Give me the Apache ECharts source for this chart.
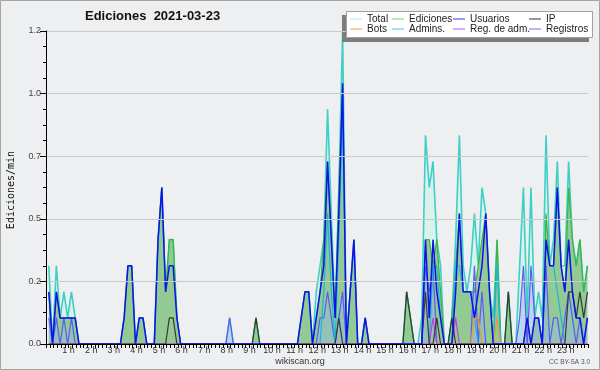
<!DOCTYPE html>
<html>
<head>
<meta charset="utf-8">
<script src="https://cdn.jsdelivr.net/npm/echarts@6/dist/echarts.min.js"></script>
<style>
html, body { margin: 0; padding: 0; background: #eeeff1; }
#chart { width: 600px; height: 370px; }
</style>
</head>
<body>
<div id="chart"></div>
<script>
// edits per minute, one value per 10-minute slot (144 slots, 12 per row = 2 hours)
const total = [
  0.3, 0, 0.3, 0.1, 0.2, 0.1, 0.2, 0.1, 0, 0, 0, 0,
  0, 0, 0, 0, 0, 0, 0, 0, 0.1, 0.3, 0.3, 0,
  0.1, 0.1, 0, 0, 0, 0.4, 0.6, 0.2, 0.4, 0.4, 0.1, 0,
  0, 0, 0, 0, 0, 0, 0, 0, 0, 0, 0, 0,
  0.1, 0, 0, 0, 0, 0, 0, 0.1, 0, 0, 0, 0,
  0, 0, 0, 0, 0, 0, 0, 0.1, 0.2, 0.2, 0, 0.2,
  0.3, 0.4, 0.9, 0.5, 0.1, 0.6, 1.2, 0, 0.2, 0.4, 0, 0,
  0.1, 0, 0, 0, 0, 0, 0, 0, 0, 0, 0, 0.2,
  0.1, 0, 0, 0.1, 0.8, 0.6, 0.7, 0.4, 0.3, 0, 0, 0.1,
  0.4, 0.8, 0.3, 0.2, 0.3, 0.5, 0.3, 0.6, 0.5, 0.2, 0.1, 0.4,
  0, 0, 0.2, 0, 0, 0.3, 0.6, 0.1, 0.6, 0.1, 0.2, 0.1,
  0.8, 0.3, 0.4, 0.7, 0.3, 0.3, 0.7, 0.4, 0.3, 0.4, 0.2, 0.3
];
const ediciones = [
  0.2, 0, 0.2, 0.1, 0.1, 0.1, 0.1, 0.1, 0, 0, 0, 0,
  0, 0, 0, 0, 0, 0, 0, 0, 0.1, 0.3, 0.3, 0,
  0.1, 0.1, 0, 0, 0, 0.4, 0.6, 0.2, 0.4, 0.4, 0.1, 0,
  0, 0, 0, 0, 0, 0, 0, 0, 0, 0, 0, 0,
  0, 0, 0, 0, 0, 0, 0, 0.1, 0, 0, 0, 0,
  0, 0, 0, 0, 0, 0, 0, 0.1, 0.2, 0.2, 0, 0.1,
  0.2, 0.4, 0.7, 0.4, 0.1, 0.6, 1.0, 0, 0.2, 0.4, 0, 0,
  0.1, 0, 0, 0, 0, 0, 0, 0, 0, 0, 0, 0.2,
  0.1, 0, 0, 0, 0.4, 0.4, 0.3, 0.4, 0.2, 0, 0, 0.1,
  0.3, 0.5, 0.2, 0.2, 0.2, 0.2, 0.3, 0.4, 0.5, 0.2, 0, 0.4,
  0, 0, 0.2, 0, 0, 0, 0, 0.1, 0, 0.1, 0.1, 0,
  0.5, 0.3, 0.3, 0.6, 0.3, 0.2, 0.6, 0.4, 0.3, 0.4, 0.2, 0.3
];
const usuarios = [
  0.2, 0, 0.2, 0.1, 0.1, 0.1, 0.1, 0.1, 0, 0, 0, 0,
  0, 0, 0, 0, 0, 0, 0, 0, 0.1, 0.3, 0.3, 0,
  0.1, 0.1, 0, 0, 0, 0.4, 0.6, 0.2, 0.3, 0.3, 0.1, 0,
  0, 0, 0, 0, 0, 0, 0, 0, 0, 0, 0, 0,
  0, 0, 0, 0, 0, 0, 0, 0, 0, 0, 0, 0,
  0, 0, 0, 0, 0, 0, 0, 0.1, 0.2, 0.2, 0, 0.1,
  0.2, 0.3, 0.7, 0.4, 0.1, 0.5, 1.0, 0, 0.2, 0.4, 0, 0,
  0.1, 0, 0, 0, 0, 0, 0, 0, 0, 0, 0, 0,
  0, 0, 0, 0, 0.4, 0.1, 0.4, 0.2, 0.1, 0, 0, 0,
  0.2, 0.5, 0.2, 0.2, 0.2, 0.1, 0.2, 0.3, 0.5, 0.2, 0, 0,
  0, 0, 0, 0, 0, 0, 0, 0.1, 0, 0.1, 0.1, 0,
  0.4, 0.3, 0.3, 0.6, 0.3, 0.2, 0.4, 0.2, 0.1, 0.1, 0, 0.1
];
const ip = [
  0, 0, 0, 0, 0, 0, 0, 0, 0, 0, 0, 0,
  0, 0, 0, 0, 0, 0, 0, 0, 0, 0, 0, 0,
  0, 0, 0, 0, 0, 0, 0, 0, 0.1, 0.1, 0, 0,
  0, 0, 0, 0, 0, 0, 0, 0, 0, 0, 0, 0,
  0, 0, 0, 0, 0, 0, 0, 0.1, 0, 0, 0, 0,
  0, 0, 0, 0, 0, 0, 0, 0, 0, 0, 0, 0,
  0, 0, 0, 0, 0, 0.1, 0, 0, 0, 0, 0, 0,
  0, 0, 0, 0, 0, 0, 0, 0, 0, 0, 0, 0.2,
  0.1, 0, 0, 0, 0.2, 0, 0, 0.1, 0, 0, 0, 0.1,
  0, 0, 0, 0, 0, 0, 0, 0, 0, 0, 0, 0,
  0, 0, 0.2, 0, 0, 0, 0, 0, 0, 0, 0, 0,
  0, 0, 0, 0, 0, 0, 0.2, 0.2, 0.1, 0.2, 0.1, 0.2
];
const bots = [
  0, 0, 0, 0, 0, 0, 0, 0, 0, 0, 0, 0,
  0, 0, 0, 0, 0, 0, 0, 0, 0, 0, 0, 0,
  0, 0, 0, 0, 0, 0, 0, 0, 0, 0, 0, 0,
  0, 0, 0, 0, 0, 0, 0, 0, 0, 0, 0, 0,
  0, 0, 0, 0, 0, 0, 0, 0, 0, 0, 0, 0,
  0, 0, 0, 0, 0, 0, 0, 0, 0, 0, 0, 0,
  0, 0, 0, 0, 0, 0, 0, 0, 0, 0, 0, 0,
  0, 0, 0, 0, 0, 0, 0, 0, 0, 0, 0, 0,
  0, 0, 0, 0, 0, 0, 0, 0, 0, 0, 0, 0,
  0, 0, 0, 0, 0, 0.1, 0.1, 0, 0, 0, 0, 0.1,
  0, 0, 0, 0, 0, 0, 0, 0, 0, 0, 0, 0,
  0, 0, 0, 0, 0, 0, 0, 0, 0, 0, 0, 0
];
const admins = [
  0, 0, 0, 0, 0, 0, 0, 0, 0, 0, 0, 0,
  0, 0, 0, 0, 0, 0, 0, 0, 0, 0, 0, 0,
  0, 0, 0, 0, 0, 0, 0, 0, 0, 0, 0, 0,
  0, 0, 0, 0, 0, 0, 0, 0, 0, 0, 0, 0,
  0, 0, 0, 0, 0, 0, 0, 0, 0, 0, 0, 0,
  0, 0, 0, 0, 0, 0, 0, 0, 0, 0, 0, 0,
  0, 0.2, 0.5, 0.2, 0, 0.4, 0.9, 0, 0, 0, 0, 0,
  0, 0, 0, 0, 0, 0, 0, 0, 0, 0, 0, 0,
  0, 0, 0, 0, 0, 0, 0.3, 0.3, 0.1, 0, 0, 0,
  0.3, 0.3, 0.2, 0.2, 0.2, 0.1, 0, 0, 0, 0, 0, 0.3,
  0, 0, 0, 0, 0, 0, 0, 0, 0, 0, 0, 0,
  0.4, 0.3, 0.3, 0.2, 0.1, 0, 0, 0, 0, 0, 0, 0
];
const regAdm = [
  0, 0, 0, 0, 0, 0, 0, 0, 0, 0, 0, 0,
  0, 0, 0, 0, 0, 0, 0, 0, 0, 0, 0, 0,
  0, 0, 0, 0, 0, 0, 0, 0, 0, 0, 0, 0,
  0, 0, 0, 0, 0, 0, 0, 0, 0, 0, 0, 0,
  0, 0, 0, 0, 0, 0, 0, 0, 0, 0, 0, 0,
  0, 0, 0, 0, 0, 0, 0, 0, 0, 0, 0, 0,
  0, 0, 0, 0, 0, 0, 0, 0, 0, 0, 0, 0,
  0, 0, 0, 0, 0, 0, 0, 0, 0, 0, 0, 0,
  0, 0, 0, 0, 0, 0, 0.1, 0, 0, 0, 0, 0,
  0.1, 0, 0, 0, 0, 0, 0, 0, 0, 0, 0, 0,
  0, 0, 0, 0, 0, 0, 0, 0, 0, 0, 0, 0,
  0, 0, 0, 0, 0, 0, 0, 0, 0, 0, 0, 0
];
const registros = [
  0.1, 0, 0.1, 0, 0.1, 0, 0.1, 0, 0, 0, 0, 0,
  0, 0, 0, 0, 0, 0, 0, 0, 0, 0, 0, 0,
  0, 0, 0, 0, 0, 0, 0, 0, 0, 0, 0, 0,
  0, 0, 0, 0, 0, 0, 0, 0, 0, 0, 0, 0,
  0.1, 0, 0, 0, 0, 0, 0, 0, 0, 0, 0, 0,
  0, 0, 0, 0, 0, 0, 0, 0, 0, 0, 0, 0,
  0.1, 0.1, 0.2, 0.1, 0, 0.1, 0.2, 0, 0, 0, 0, 0,
  0, 0, 0, 0, 0, 0, 0, 0, 0, 0, 0, 0,
  0, 0, 0, 0, 0.3, 0.2, 0.3, 0, 0, 0, 0, 0,
  0, 0, 0, 0, 0, 0.3, 0, 0.2, 0, 0, 0, 0,
  0, 0, 0, 0, 0, 0.1, 0.3, 0, 0.3, 0.1, 0.1, 0,
  0.3, 0, 0.1, 0.1, 0, 0.1, 0.2, 0.1, 0, 0.1, 0, 0.1
];
const yTicks = [0, 0.24, 0.48, 0.72, 0.96, 1.2];

// slot i is drawn a bit after its start (hours)
const times = total.map((_, i) => (i + 0.75) / 6);
const pair = arr => arr.map((v, i) => [times[i], v]);

const font = 'Liberation Sans, Arial, sans-serif';

function lineSeries(name, values, color, width, area) {
  const s = {
    name: name,
    type: 'line',
    data: pair(values),
    symbol: 'none',
    lineStyle: { color: color, width: width },
    itemStyle: { color: color },
    emphasis: { disabled: true }
  };
  if (area) s.areaStyle = { color: area, opacity: 1 };
  return s;
}

// legend boxes, laid out as a 4x2 grid
const legendItems = [
  ['Total', '#b2e6e2', 350, 14], ['Ediciones', '#80cc80', 392, 14],
  ['Usuarios', '#3a3ad6', 453, 14], ['IP', '#333333', 529, 14],
  ['Bots', '#f5a040', 350, 24], ['Admins.', '#48c6e0', 392, 24],
  ['Reg. de adm.', '#c050e0', 453, 24], ['Registros', '#7272ec', 529, 24]
];

const chart = echarts.init(document.getElementById('chart'));
chart.setOption({
  backgroundColor: '#eeeff1',
  animation: false,
  title: {
    text: 'Ediciones  2021-03-23',
    left: 85,
    top: 10,
    padding: 0,
    textStyle: { fontFamily: font, fontSize: 13, fontWeight: 'bold', color: '#111' }
  },
  legend: legendItems.map(([name, color, left, top]) => ({
    data: [{ name: name, itemStyle: { color: color }, lineStyle: { color: color } }],
    left: left,
    top: top,
    padding: 0,
    icon: 'rect',
    itemWidth: 12,
    itemHeight: 1,
    selectedMode: false,
    z: 20,
    textStyle: { fontFamily: font, fontSize: 10, color: '#222', lineHeight: 10 }
  })),
  grid: { left: 46, right: 11.6, top: 31, bottom: 26 },
  xAxis: {
    type: 'value',
    min: 0,
    max: 24,
    interval: 1,
    z: 10,
    axisLine: { lineStyle: { color: '#000', width: 1 } },
    axisTick: { length: 4, lineStyle: { color: '#000' } },
    minorTick: { show: true, splitNumber: 6, length: 4, lineStyle: { color: '#000' } },
    splitLine: { show: false },
    axisLabel: {
      margin: 2,
      fontFamily: font,
      fontSize: 9,
      color: '#333',
      formatter: v => (v > 0 && v < 24) ? v + ' h' : ''
    }
  },
  yAxis: {
    type: 'value',
    min: yTicks[0],
    max: yTicks[yTicks.length - 1],
    interval: yTicks[1],
    z: 10,
    axisLine: { show: true, lineStyle: { color: '#000', width: 1 } },
    axisTick: { show: true, length: 6, lineStyle: { color: '#000' } },
    minorTick: { show: true, splitNumber: 4, length: 3, lineStyle: { color: '#000' } },
    splitLine: { show: true, lineStyle: { color: '#c9c9c9', width: 1 } },
    axisLabel: {
      margin: 5,
      fontFamily: font,
      fontSize: 9,
      color: '#444',
      formatter: v => v.toFixed(1)
    }
  },
  series: [
    lineSeries('Total', total, '#3ecfc6', 1.6, '#daf1ec'),
    lineSeries('Ediciones', ediciones, '#3db33d', 1.2, '#93c993'),
    lineSeries('Registros', registros, '#5b5bf3', 1.2, 'rgba(150,185,235,0.45)'),
    lineSeries('Admins.', admins, '#1bb5dc', 1.2),
    lineSeries('Bots', bots, '#f39a2a', 1.2),
    lineSeries('Reg. de adm.', regAdm, '#c43ee0', 1.2),
    lineSeries('IP', ip, '#383838', 1.2),
    lineSeries('Usuarios', usuarios, '#1010ee', 1.5)
  ],
  graphic: [
    {
      type: 'rect', silent: true, z: 30,
      shape: { x: 0.5, y: 0.5, width: 599, height: 369 },
      style: { fill: 'none', stroke: '#a4a4a4', lineWidth: 1 }
    },
    {
      type: 'rect', silent: true, z: 10,
      shape: { x: 342, y: 15, width: 247, height: 27 },
      style: { fill: '#7d7d7d' }
    },
    {
      type: 'rect', silent: true, z: 11,
      shape: { x: 346.5, y: 11.5, width: 246, height: 26 },
      style: { fill: '#ffffff', stroke: '#a0a0a0', lineWidth: 1 }
    },
    {
      type: 'text', silent: true, z: 12,
      x: 11, y: 190, rotation: Math.PI / 2,
      style: {
        text: 'Ediciones/min', fill: '#111',
        font: '10px "DejaVu Sans Mono", monospace',
        align: 'center', verticalAlign: 'middle'
      }
    },
    {
      type: 'text', silent: true, z: 12,
      x: 300, y: 362,
      style: {
        text: 'wikiscan.org', fill: '#333',
        font: '9px "Liberation Sans", Arial, sans-serif',
        align: 'center', verticalAlign: 'middle'
      }
    },
    {
      type: 'text', silent: true, z: 12,
      x: 590, y: 362,
      style: {
        text: 'CC BY-SA 3.0', fill: '#555',
        font: '6.5px "Liberation Sans", Arial, sans-serif',
        align: 'right', verticalAlign: 'middle'
      }
    }
  ]
});
</script>
</body>
</html>
